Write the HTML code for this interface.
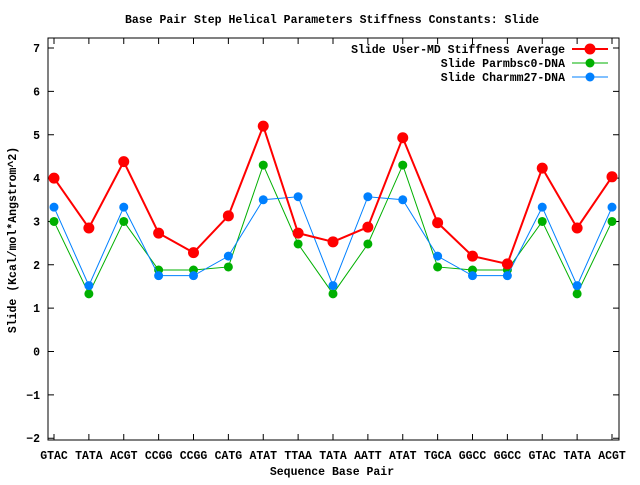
<!DOCTYPE html>
<html><head><meta charset="utf-8"><style>
body{margin:0;background:#fff;}
svg text{font-family:"Liberation Mono",monospace;font-weight:bold;font-size:11.5px;fill:#000;}
</style></head><body>
<svg width="640" height="480" xmlns="http://www.w3.org/2000/svg">
<rect width="640" height="480" fill="#fff"/>
<text x="332" y="23" text-anchor="middle">Base Pair Step Helical Parameters Stiffness Constants: Slide</text>
<text x="332" y="475" text-anchor="middle">Sequence Base Pair</text>
<text transform="translate(16,240) rotate(-90)" text-anchor="middle">Slide (Kcal/mol*Angstrom^2)</text>
<g id="axes"></g>
<g id="series"></g>
<g id="legend"></g>
</svg>
<script>
const categories=["GTAC","TATA","ACGT","CCGG","CCGG","CATG","ATAT","TTAA","TATA","AATT","ATAT","TGCA","GGCC","GGCC","GTAC","TATA","ACGT"];
const yTicks=[-2,-1,0,1,2,3,4,5,6,7];
const avgValues=[4.0,2.85,4.38,2.73,2.28,3.13,5.2,2.73,2.53,2.87,4.93,2.97,2.2,2.02,4.23,2.85,4.03];
const bscValues=[3.0,1.33,3.0,1.88,1.88,1.95,4.3,2.48,1.33,2.48,4.3,1.95,1.88,1.88,3.0,1.33,3.0];
const charmmValues=[3.33,1.52,3.33,1.75,1.75,2.2,3.5,3.57,1.52,3.57,3.5,2.2,1.75,1.75,3.33,1.52,3.33];
const seriesNames=["Slide User-MD Stiffness Average","Slide Parmbsc0-DNA","Slide Charmm27-DNA"];
const NS="http://www.w3.org/2000/svg";
const L=48,R=619,T=38,B=440,X0=54,X1=612;
const xS=i=>X0+(X1-X0)*i/(categories.length-1);
const yS=v=>351.5-43.35*v;
function mk(tag,attrs,parent){const e=document.createElementNS(NS,tag);for(const k in attrs)e.setAttribute(k,attrs[k]);parent.appendChild(e);return e;}
const ax=document.getElementById('axes');
const frame=mk('rect',{x:L,y:T,width:R-L,height:B-T,fill:'none',stroke:'#000','stroke-width':1},ax);


yTicks.forEach(v=>{const y=yS(v);
 const t=mk('path',{d:`M${L} ${y}H${L+6}M${R} ${y}H${R-6}`,stroke:'#000'},ax);
 
 
 const tx=mk('text',{x:L-8,y:y+4,'text-anchor':'end'},ax);tx.textContent=v<0?'\u2212'+(-v):v;
 
 
});
categories.forEach((c,i)=>{const x=xS(i);
 const t=mk('path',{d:`M${x} ${B}V${B-6}M${x} ${T}V${T+6}`,stroke:'#000'},ax);
 
 
 const tx=mk('text',{x:x,y:B+19,'text-anchor':'middle'},ax);tx.textContent=c;
 
 
});
const sg=document.getElementById('series');
function drawSeries(vals,color,w,r,name){
 const g=mk('g',{},sg);
 
 
 const l=mk('polyline',{points:vals.map((v,i)=>xS(i)+','+yS(v)).join(' '),fill:'none',stroke:color,'stroke-width':w},g);
 
 
 vals.forEach((v,i)=>{const p=mk('circle',{cx:xS(i),cy:yS(v),r:r,fill:color},g);
  
  });
}
drawSeries(bscValues,'#00b000',1,4.5,'parmbsc0-series');
drawSeries(charmmValues,'#0080ff',1,4.5,'charmm27-series');
drawSeries(avgValues,'#ff0000',2,5.5,'average-series');
const lg=document.getElementById('legend');
const cols=['#ff0000','#00b000','#0080ff'];
seriesNames.forEach((n,i)=>{const y=49+i*14;
 const tx=mk('text',{x:565,y:y+4,'text-anchor':'end'},lg);tx.textContent=n;
 
 
 const l=mk('path',{d:`M572 ${y}H608`,stroke:cols[i],'stroke-width':i==0?2:1},lg);
 
 
 const c=mk('circle',{cx:590,cy:y,r:i==0?5.5:4.5,fill:cols[i]},lg);
 
 
});
</script>
</body></html>
